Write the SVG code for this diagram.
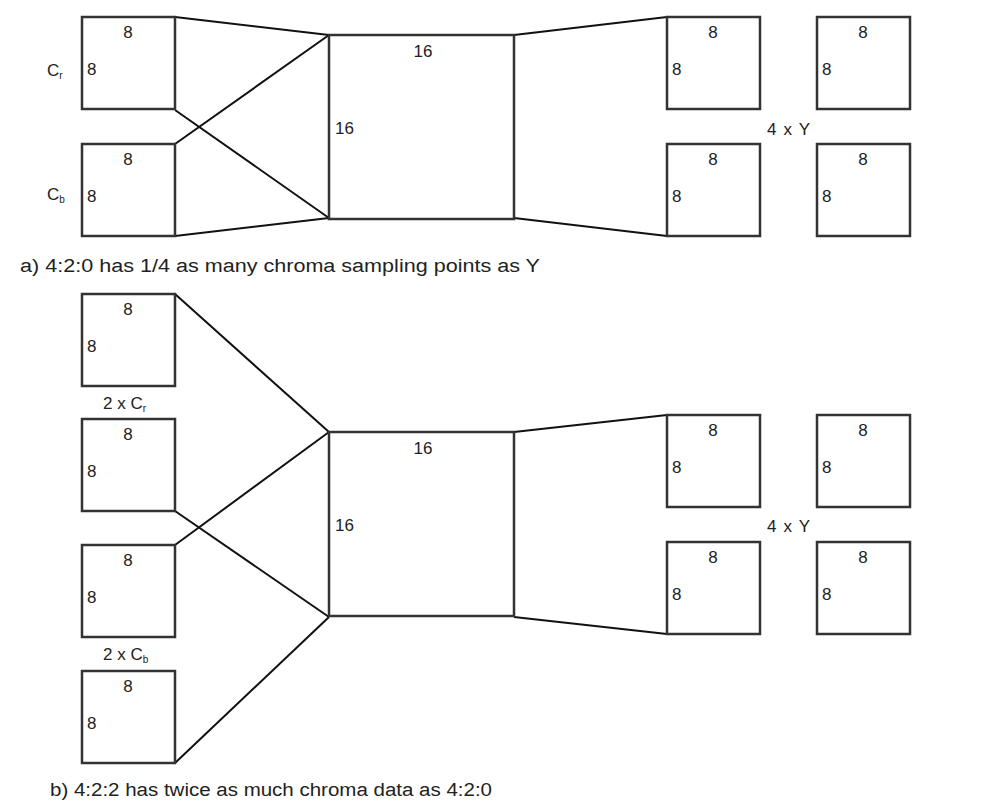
<svg xmlns="http://www.w3.org/2000/svg" width="1007" height="805" viewBox="0 0 1007 805">
<style>
rect{fill:none;stroke:#333;stroke-width:2.5}
line{stroke:#111;stroke-width:2}
text{font-family:"Liberation Sans",Arial,sans-serif;font-size:17px;fill:#222}
.c{font-size:18px}
.s{font-size:10px}
</style>
<defs>
<g id="b"><rect x="0" y="0" width="93" height="92"/><text x="46" y="21" text-anchor="middle">8</text><text x="5" y="58">8</text></g>
<g id="big"><rect x="0" y="0" width="185" height="184"/><text x="94" y="22" text-anchor="middle">16</text><text x="6" y="99">16</text></g>
</defs>
<rect x="0" y="0" width="1007" height="805" style="fill:#fff;stroke:none"/>
<g id="connectors">
<line x1="175" y1="17" x2="329" y2="35"/><line x1="175" y1="110" x2="329" y2="218"/>
<line x1="175" y1="144" x2="329" y2="35"/><line x1="175" y1="236" x2="329" y2="218"/>
<line x1="514" y1="35" x2="667" y2="17"/><line x1="514" y1="218" x2="667" y2="236"/>
<line x1="175" y1="294" x2="329" y2="432"/><line x1="175" y1="511" x2="329" y2="617"/>
<line x1="175" y1="545" x2="329" y2="432"/><line x1="175" y1="763" x2="329" y2="617"/>
<line x1="514" y1="432" x2="667" y2="415"/><line x1="514" y1="617" x2="667" y2="634"/>
</g>
<g id="a-cr"><use href="#b" x="82" y="17"/><text x="47" y="76">C<tspan class="s" dy="3">r</tspan></text></g>
<g id="a-cb"><use href="#b" x="82" y="144"/><text x="47" y="200">C<tspan class="s" dy="3">b</tspan></text></g>
<g id="a-mb"><use href="#big" x="329" y="35"/></g>
<g id="a-y1"><use href="#b" x="667" y="17"/></g>
<g id="a-y2"><use href="#b" x="817" y="17"/></g>
<g id="a-y3"><use href="#b" x="667" y="144"/></g>
<g id="a-y4"><use href="#b" x="817" y="144"/></g>
<text x="767" y="135" textLength="43">4 x Y</text>
<text class="c" x="20" y="272" textLength="520" lengthAdjust="spacingAndGlyphs">a) 4:2:0 has 1/4 as many chroma sampling points as Y</text>
<g id="b-cr1"><use href="#b" x="82" y="294"/></g>
<text x="103" y="409">2 x C<tspan class="s" dy="3">r</tspan></text>
<g id="b-cr2"><use href="#b" x="82" y="419"/></g>
<g id="b-cb1"><use href="#b" x="82" y="545"/></g>
<text x="103" y="660">2 x C<tspan class="s" dy="3">b</tspan></text>
<g id="b-cb2"><use href="#b" x="82" y="671"/></g>
<g id="b-mb"><use href="#big" x="329" y="432"/></g>
<g id="b-y1"><use href="#b" x="667" y="415"/></g>
<g id="b-y2"><use href="#b" x="817" y="415"/></g>
<g id="b-y3"><use href="#b" x="667" y="542"/></g>
<g id="b-y4"><use href="#b" x="817" y="542"/></g>
<text x="767" y="532" textLength="43">4 x Y</text>
<text class="c" x="50" y="796" textLength="442" lengthAdjust="spacingAndGlyphs">b) 4:2:2 has twice as much chroma data as 4:2:0</text>
</svg>
